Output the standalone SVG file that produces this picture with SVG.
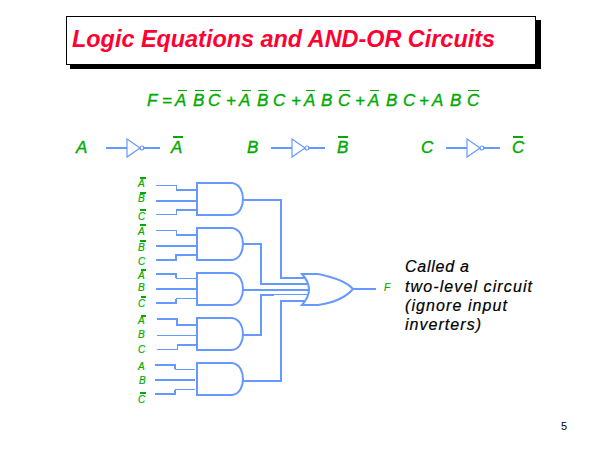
<svg xmlns="http://www.w3.org/2000/svg" width="600" height="450" viewBox="0 0 600 450">
<style>
text{font-family:"Liberation Sans",Arial,sans-serif;font-style:italic}
.g{fill:#00aa00;stroke:#00aa00}
.eq{font-size:17px;stroke-width:.35}
.s{font-size:10px;stroke-width:.2}
.bar{stroke:#00aa00;stroke-width:1.500;fill:none;shape-rendering:crispEdges}
.w{fill:none;stroke:#6699ff;stroke-width:2;shape-rendering:crispEdges}
.t{fill:none;stroke:#6699ff;stroke-width:1;shape-rendering:crispEdges}
.shape{fill:none;stroke:#6699ff;stroke-width:2}
.n{font-size:16px;fill:#000;stroke:#000;stroke-width:.2}
</style>
<defs>
<path id="and" class="shape" d="M197 183H232C240 184 243 192 243 199C243 206 240 214 232 215H197Z"/>
<g id="inv"><path d="M0 -9L13 0L0 9Z" fill="none" stroke="#6699ff" stroke-width="1.200"/><circle cx="15" cy="0" r="2" fill="none" stroke="#6699ff" stroke-width="1.200"/></g>
</defs>
<rect x="0" y="0" width="600" height="450" fill="#fff"/>
<g id="title">
<rect x="70" y="20" width="471" height="49" fill="#000"/>
<rect x="66.500" y="16.500" width="469" height="48" fill="#fff" stroke="#000"/>
<text x="72" y="47" font-size="24" font-weight="bold" fill="#ff0033" textLength="423" lengthAdjust="spacingAndGlyphs">Logic Equations and AND-OR Circuits</text>
</g>
<g id="equation">
<text class="g eq" y="106" x="147 155 162 171 175 189 193 204 208 222 226 235 239 253 257 269 273 287 291 300 304 317 321 334 338 351 355 364 368 382 386 399 403 415 419 428 432 446 450 463 467">F = A B C + A B C + A B C + A B C + A B C</text>
<path class="bar" d="M178 90.500h9M195 90.500h9M210 90.500h11M242 90.500h9M258 90.500h9M306 90.500h9M339 90.500h11M370 90.500h9M468 90.500h11"/>
</g>
<g id="inverter-a">
<text class="g eq" x="76" y="153">A</text>
<path class="w" d="M106 148H127M143 148H160"/>
<use href="#inv" x="127" y="148"/>
<text class="g eq" x="171" y="153">A</text>
<path class="bar" d="M173 137h10"/>
</g>
<g id="inverter-b">
<text class="g eq" x="247" y="153">B</text>
<path class="w" d="M271 148H292M308 148H325"/>
<use href="#inv" x="292" y="148"/>
<text class="g eq" x="337" y="153">B</text>
<path class="bar" d="M338 137h10"/>
</g>
<g id="inverter-c">
<text class="g eq" x="421" y="153">C</text>
<path class="w" d="M446 148H467M483 148H500"/>
<use href="#inv" x="467" y="148"/>
<text class="g eq" x="512" y="153">C</text>
<path class="bar" d="M513 137h10"/>
</g>
<g id="input-labels">
<text class="g s" x="138" y="187">A</text><text class="g s" x="138" y="202">B</text><text class="g s" x="138" y="220">C</text>
<text class="g s" x="138" y="235">A</text><text class="g s" x="138" y="251">B</text><text class="g s" x="138" y="265">C</text>
<text class="g s" x="138" y="279">A</text><text class="g s" x="138" y="291">B</text><text class="g s" x="138" y="307">C</text>
<text class="g s" x="138" y="324">A</text><text class="g s" x="138" y="338">B</text><text class="g s" x="138" y="353">C</text>
<text class="g s" x="138" y="370">A</text><text class="g s" x="139" y="384">B</text><text class="g s" x="138" y="403">C</text>
<path class="bar" d="M140 178h6M140 193h6M140 210h6M140 225h6M140 241h6M141 270h5M141 297h5M141 316h5M140 393h6"/>
</g>
<g id="connectors">
<path class="t" d="M156 185.500H176V190"/><path class="w" d="M176 190H197"/>
<path class="w" d="M156 201H197"/>
<path class="t" d="M156 214.500H176V210"/><path class="w" d="M176 210H197"/>
<path class="t" d="M156 230.500H176V235"/><path class="w" d="M176 235H197"/>
<path class="w" d="M156 246H197"/>
<path class="w" d="M156 260H176V255H197"/>
<path class="w" d="M156 274H176V278"/><path class="t" d="M176 278.500H197"/>
<path class="w" d="M156 289H197"/>
<path class="w" d="M156 303H176V299"/><path class="t" d="M176 298.500H197"/>
<path class="w" d="M157 319H177V325H197"/>
<path class="t" d="M157 335.500H197"/>
<path class="t" d="M157 349.500H177V345"/><path class="w" d="M177 345H197"/>
<path class="w" d="M155 365H175V369"/><path class="t" d="M175 369.500H195"/>
<path class="w" d="M155 380H195"/>
<path class="w" d="M155 394H175V390"/><path class="t" d="M175 389.500H195"/>
<path class="w" d="M243 200H281V278H305"/>
<path class="w" d="M243 244H261V284H307"/>
<path class="w" d="M243 290H310"/>
<path class="w" d="M243 335H261V295H274"/><path class="t" d="M274 294.500H309"/>
<path class="w" d="M243 381H281V301H305"/>
<path class="w" d="M353 289H376"/>
</g>
<g id="and1"><use href="#and"/></g>
<g id="and2"><use href="#and" y="45"/></g>
<g id="and3"><use href="#and" y="90"/></g>
<g id="and4"><use href="#and" y="135"/></g>
<g id="and5"><use href="#and" y="180"/></g>
<g id="or1"><path class="shape" d="M302 274H318C333 277 346 281 353 289C346 297 333 303 318 305H302Q316 289.500 302 274Z"/></g>
<g id="output-label"><text class="g s" x="384" y="291">F</text></g>
<g id="note">
<text class="n" x="405" y="272" textLength="64">Called a</text>
<text class="n" x="405" y="292" textLength="127">two-level circuit</text>
<text class="n" x="405" y="311" textLength="102">(ignore input</text>
<text class="n" x="405" y="330" textLength="76">inverters)</text>
</g>
<text id="page" x="561" y="430" font-size="11" style="font-style:normal" fill="#000">5</text>
</svg>
